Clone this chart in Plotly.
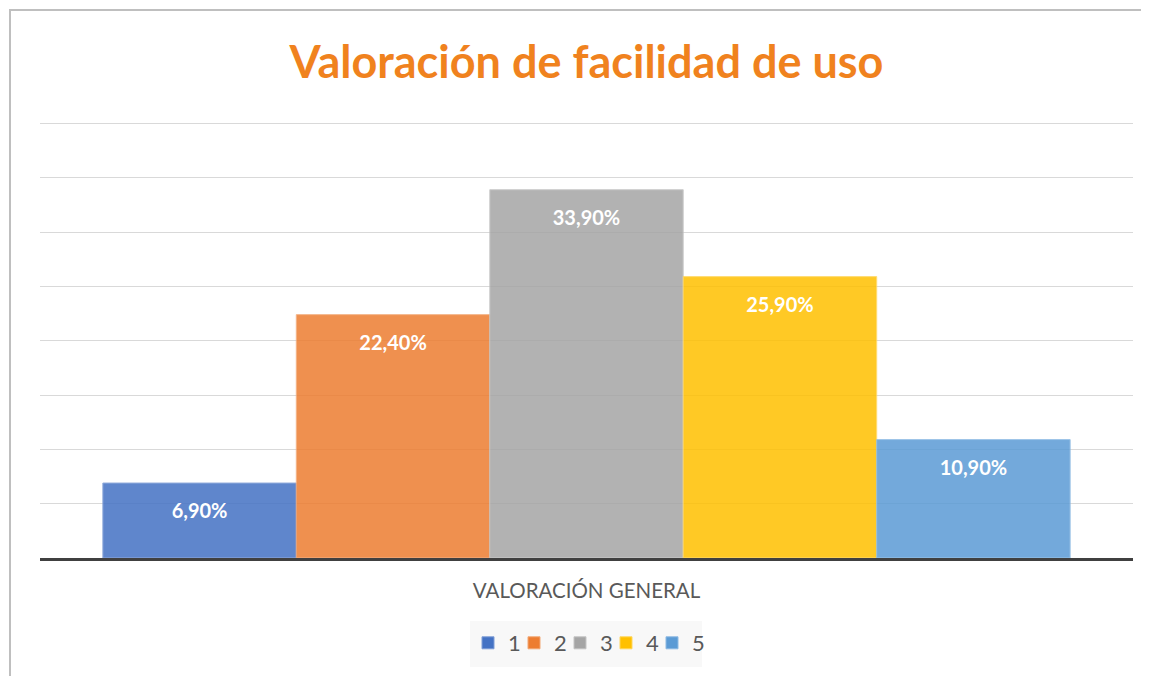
import plotly.graph_objects as go

category = ["VALORACIÓN GENERAL"]
series_names = ["1", "2", "3", "4", "5"]
values = [6.9, 22.4, 33.9, 25.9, 10.9]
colors = ["#4472C4", "#ED7D31", "#A5A5A5", "#FFC000", "#5B9BD5"]
edge_colors = ["#7F9DD6", "#F2A774", "#C4C4C4", "#FFD65C", "#8DBAE3"]

W, H = 1149, 676
OFF = 8  # page body margin offset
L, R, T, B = 40 - OFF, 16 + OFF, 110, 118 + OFF
ph = H - T - B
pw = W - L - R
base_y = H - B  # figure px of baseline

def px_x(sx):
    return (sx - OFF - L) / pw

def px_y(sy):
    return (base_y - (sy - OFF)) / ph

fig = go.Figure()
for name, v, c, ec in zip(series_names, values, colors, edge_colors):
    fig.add_trace(go.Bar(
        x=category, y=[v], name=name,
        marker=dict(color=c, opacity=0.85, line=dict(color=ec, width=1)),
        texttemplate="<span style='font-size:6px'> </span><br>%{y:.2f}%",
        textposition="inside", insidetextanchor="end",
        textfont=dict(family="Lato, Open Sans, sans-serif", size=20, color="white", weight="bold"),
        cliponaxis=False,
    ))
# invisible spacer legend entry so the last label is not clipped
fig.add_trace(go.Scatter(x=[None], y=[None], mode="markers", name=" ",
                         marker=dict(color="rgba(0,0,0,0)"), hoverinfo="skip"))

fig.update_layout(
    width=W, height=H,
    margin=dict(l=L, r=R, t=T, b=B),
    paper_bgcolor="white", plot_bgcolor="white",
    separators=",.",
    barmode="group", bargap=0.115, bargroupgap=0,
    font=dict(family="Lato, Open Sans, sans-serif", color="#595959"),
    title=dict(text="<b>Valoración de facilidad de uso</b>", x=(586.5 - OFF) / W, xanchor="center",
               y=1 - (62 - OFF) / H, yanchor="middle",
               font=dict(family="Lato, Open Sans, sans-serif", size=45, color="#F0821E")),
    showlegend=True,
    legend=dict(orientation="h", x=px_x(468), xanchor="left", y=px_y(622), yanchor="top",
                bgcolor="rgba(0,0,0,0)", font=dict(size=22, color="#595959"),
                itemwidth=30, entrywidth=1, entrywidthmode="pixels", traceorder="normal"),
    xaxis=dict(showgrid=False, showline=True, linecolor="#404040", linewidth=3,
               ticks="", tickfont=dict(size=20.5, color="#595959"), ticklabelstandoff=12),
    yaxis=dict(range=[0, 40.5], dtick=5, showgrid=True, gridcolor="#D9D9D9", gridwidth=1,
               showticklabels=False, zeroline=False, showline=False, ticks=""),
)

# legend background box
fig.add_shape(type="rect", xref="paper", yref="paper",
              x0=px_x(470), x1=px_x(702), y0=px_y(667), y1=px_y(621),
              line=dict(width=0), fillcolor="#F8F8F8", layer="below")

# outer chart border
fig.add_shape(type="rect", xref="paper", yref="paper",
              x0=px_x(10), x1=px_x(W + 30),
              y0=px_y(H + 30), y1=px_y(10),
              line=dict(color="#BFBFBF", width=2), fillcolor="rgba(0,0,0,0)", layer="below")

fig.write_html("out.html")
